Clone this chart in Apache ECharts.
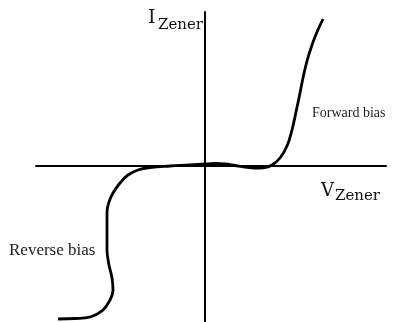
<!DOCTYPE html>
<html lang="en">
<head>
    <meta charset="UTF-8">
    <script src="https://cdn.jsdelivr.net/npm/echarts@6/dist/echarts.min.js"></script>
    <title>Zener</title>
    <style>
        html, body{
            margin: 0;
            padding: 0;
            background: #fff;
        }
        #chart{
            width: 404px;
            height: 322px;
        }
    </style>
</head>
<body>
    <div id="chart"></div>
    <script>
        // 电压 (V_Zener) 和 电流 (I_Zener)，读图估计
        let vZener = [-147, -130, -115, -102, -95, -92, -93, -96, -98, -98, -98, -96, -92, -85, -77, -67, -55, -35, -15, 0, 10, 20, 30, 40, 50, 60, 67, 75, 82, 87, 91, 95, 98, 102, 107, 112, 118]
        let iZener = [-153, -152.5, -151, -144, -134, -124, -112, -99, -84, -64, -46, -36, -27, -17, -9, -4, -1.5, 0, 1, 2, 2.5, 2, 0.5, -1, -2, -1.5, 1, 8, 20, 36, 54, 73, 88, 105, 121, 134, 147]

        let serif = '"Liberation Serif", "DejaVu Serif", serif'
        let mathFont = '"DejaVu Serif", serif'

        let myChart = echarts.init(document.getElementById('chart'))
        let option = {
            animation: false,
            grid: {
                left: 36,
                right: 18,
                top: 12,
                bottom: 0
            },
            xAxis: {
                type: 'value',
                min: -169,
                max: 181,
                axisLine: { onZero: true, lineStyle: { color: '#000', width: 2 } },
                axisTick: { show: false },
                axisLabel: { show: false },
                splitLine: { show: false }
            },
            yAxis: {
                type: 'value',
                min: -156,
                max: 154,
                axisLine: { onZero: true, lineStyle: { color: '#000', width: 2 } },
                axisTick: { show: false },
                axisLabel: { show: false },
                splitLine: { show: false }
            },
            series: [{
                type: 'line',
                data: vZener.map((v, i) => [v, iZener[i]]),
                smooth: 0.4,
                symbol: 'none',
                lineStyle: { color: '#000', width: 2.8 }
            }],
            // 文字标注
            graphic: [
                { type: 'text', left: 148, top: 9, style: { text: 'I', font: '19px ' + mathFont, fill: '#111' } },
                { type: 'text', left: 158, top: 18, style: { text: 'Zener', font: '15px ' + mathFont, fill: '#111' } },
                { type: 'text', left: 321, top: 182, style: { text: 'V', font: '18px ' + mathFont, fill: '#111' } },
                { type: 'text', left: 335, top: 189, style: { text: 'Zener', font: '15px ' + mathFont, fill: '#111' } },
                { type: 'text', left: 312, top: 106, style: { text: 'Forward bias', font: '14px ' + serif, fill: '#222' } },
                { type: 'text', left: 9, top: 242, style: { text: 'Reverse bias', font: '17px ' + serif, fill: '#222' } }
            ]
        }
        myChart.setOption(option)
    </script>
</body>
</html>
